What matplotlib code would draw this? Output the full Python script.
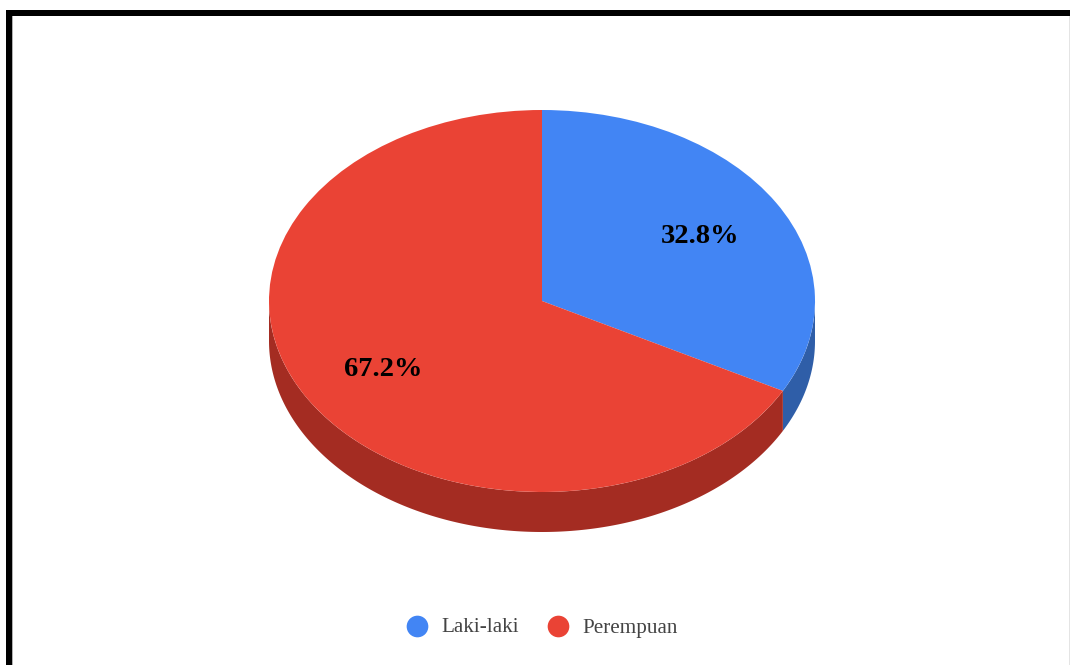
import numpy as np
import matplotlib
matplotlib.use("Agg")
import matplotlib.pyplot as plt
from matplotlib.patches import Rectangle

labels = ["Laki-laki", "Perempuan"]
values = [32.8, 67.2]
top_colors = ["#4285f4", "#ea4335"]
side_colors = ["#2f5ea8", "#a42c22"]

W, H = 1070, 665
cx, cy = 542, 301
rx, ry = 273, 191
depth = 40

plt.rcParams["font.family"] = ["Liberation Serif", "DejaVu Serif"]

fig = plt.figure(figsize=(W / 100, H / 100), dpi=100, facecolor="white")

# full-figure axes in pixel units, for the frame and the legend
bg = fig.add_axes([0, 0, 1, 1])
bg.set_xlim(0, W)
bg.set_ylim(H, 0)
bg.axis("off")
bg.add_patch(Rectangle((6, 10), W - 6, 6, color="black", lw=0))
bg.add_patch(Rectangle((6, 10), 6, H - 10, color="black", lw=0))
bg.add_patch(Rectangle((12, 16), 1.2, H - 16, color="#b0b0b0", lw=0))
bg.add_patch(Rectangle((W - 1.2, 16), 1.2, H - 16, color="#e4e4e4", lw=0))

# the pie sits in an axes wider than tall, so its circle comes out as an ellipse
ax = fig.add_axes([(cx - rx) / W, 1 - (cy + ry) / H, 2 * rx / W, 2 * ry / H])
ax.patch.set_alpha(0)

# side wall, only the front half of the rim (90 to 270 deg clockwise from top) shows
drop = depth / ry
edges = np.cumsum([0] + values) / sum(values) * 360
for i in range(len(values)):
    a0 = max(edges[i], 90)
    a1 = min(edges[i + 1], 270)
    if a1 <= a0:
        continue
    t = np.radians(np.linspace(a0, a1, 200))
    xs = np.sin(t)
    ys = np.cos(t)
    ax.fill(np.r_[xs, xs[::-1]], np.r_[ys, ys[::-1] - drop],
            color=side_colors[i], lw=0, clip_on=False, zorder=1)

wedges, _, autotexts = ax.pie(values, colors=top_colors, startangle=90,
                              counterclock=False, radius=1,
                              autopct="%.1f%%", pctdistance=0.677,
                              wedgeprops={"linewidth": 0, "zorder": 2},
                              textprops={"clip_on": False})
for w in wedges:
    w.set_clip_on(False)
for t in autotexts:
    t.set_fontsize(20.5)
    t.set_fontweight("bold")
    t.set_color("black")
    t.set_zorder(3)
    t.set_y(t.get_position()[1] - 2 / ry)

ax.set_aspect("auto")
ax.set_xlim(-1, 1)
ax.set_ylim(-1, 1)

# legend
leg_x = [417, 558]
for i in range(len(labels)):
    bg.plot(leg_x[i], 626, "o", ms=15.6, mfc=top_colors[i], mec="none")
    bg.text(leg_x[i] + 24.5, 628, labels[i], fontsize=15.2, color="#444444",
            ha="left", va="center")

fig.savefig("out.png", dpi=100, facecolor="white")
